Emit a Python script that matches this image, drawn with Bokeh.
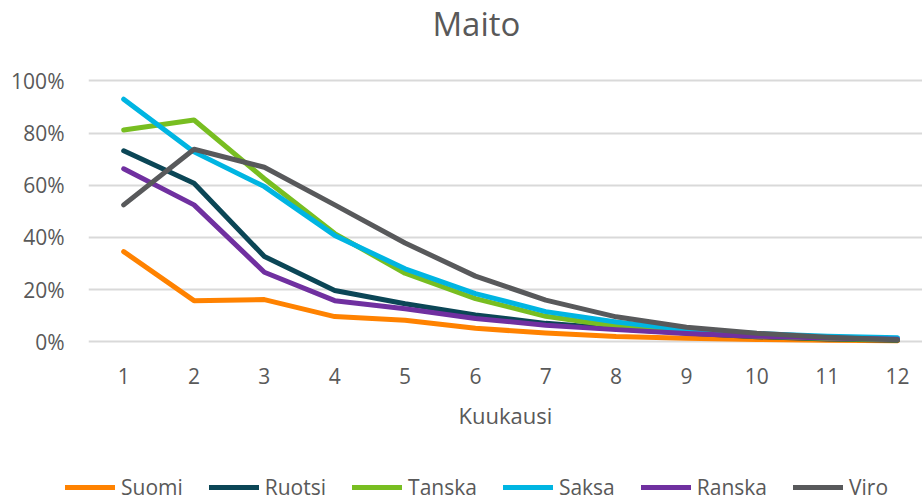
from bokeh.plotting import figure
from bokeh.layouts import column, row
from bokeh.models import Range1d, FixedTicker, PrintfTickFormatter, Legend, LegendItem, Label
from bokeh.embed import file_html
from bokeh.resources import INLINE

months = [1, 2, 3, 4, 5, 6, 7, 8, 9, 10, 11, 12]
suomi = [34.6, 15.8, 16.2, 9.7, 8.3, 5.2, 3.4, 2.1, 1.4, 0.9, 0.6, 0.4]
ruotsi = [73.2, 60.8, 32.7, 19.7, 14.6, 10.3, 7.1, 5.0, 3.4, 2.0, 1.1, 0.6]
tanska = [81.2, 85.0, 62.5, 41.5, 26.3, 16.6, 9.8, 6.0, 3.6, 2.2, 1.3, 0.8]
saksa = [93.0, 72.8, 59.5, 40.8, 28.0, 18.5, 11.6, 7.6, 4.6, 3.2, 2.2, 1.6]
ranska = [66.3, 52.5, 26.7, 15.8, 12.7, 9.0, 6.4, 4.7, 3.2, 2.2, 1.5, 1.0]
viro = [52.5, 73.8, 66.9, 52.5, 37.9, 25.2, 16.0, 9.6, 5.6, 3.3, 1.8, 0.8]

names = ["Suomi", "Ruotsi", "Tanska", "Saksa", "Ranska", "Viro"]
series = [suomi, ruotsi, tanska, saksa, ranska, viro]
colors = ["#FF8200", "#0B4656", "#78BE21", "#00B5E2", "#7030A0", "#58595B"]
y_ticks = [0, 20, 40, 60, 80, 100]
title_text = "Maito"
x_label = "Kuukausi"

FONT = "Open Sans"
TXT = "#595959"

p = figure(width=922, height=456, output_backend="svg", toolbar_location=None,
           x_range=Range1d(0.5, 12.355), y_range=Range1d(-1, 130.8),
           min_border_left=88, min_border_right=0, min_border_top=0, min_border_bottom=112)
p.outline_line_color = None
p.background_fill_color = "white"
p.border_fill_color = "white"

p.xgrid.grid_line_color = None
p.ygrid.grid_line_color = "#D9D9D9"
p.ygrid.grid_line_width = 1.8

p.xaxis.ticker = FixedTicker(ticks=months)
p.yaxis.ticker = FixedTicker(ticks=y_ticks)
p.yaxis.formatter = PrintfTickFormatter(format="%d%%")
for ax in (p.xaxis, p.yaxis):
    ax.axis_line_color = None
    ax.major_tick_line_color = None
    ax.minor_tick_line_color = None
    ax.major_tick_out = 0
    ax.major_tick_in = 0
    ax.major_label_text_font = FONT
    ax.major_label_text_font_size = "21px"
    ax.major_label_text_color = TXT
p.yaxis.major_label_standoff = 24
p.xaxis.major_label_standoff = 23
p.xaxis.axis_label = x_label
p.xaxis.axis_label_text_font = FONT
p.xaxis.axis_label_text_font_size = "22px"
p.xaxis.axis_label_text_font_style = "normal"
p.xaxis.axis_label_text_color = TXT
p.xaxis.axis_label_standoff = 13

p.add_layout(Label(x=6.014, y=121.9, text=title_text, text_align="center",
                   text_baseline="alphabetic", text_font=FONT, text_font_size="33px",
                   text_color=TXT))

for name, vals, col in zip(names, series, colors):
    p.line(months, vals, line_color=col, line_width=5, line_join="round", line_cap="round")

# legend band (its swatch renderers sit outside this band's visible range)
q = figure(width=922, height=45, output_backend="svg", toolbar_location=None,
           x_range=Range1d(100, 101), y_range=Range1d(100, 101),
           x_axis_location=None, y_axis_location=None,
           min_border_left=0, min_border_right=0, min_border_top=0, min_border_bottom=0)
q.outline_line_color = None
q.grid.grid_line_color = None
q.background_fill_color = "white"
q.border_fill_color = "white"
items = []
for name, vals, col in zip(names, series, colors):
    r = q.line(months[:1], vals[:1], line_color=col, line_width=5, line_cap="round")
    items.append(LegendItem(label=name, renderers=[r]))
legend = Legend(items=items, orientation="horizontal", location=(65, 0),
                glyph_width=50, glyph_height=20, label_standoff=6, spacing=26,
                padding=0, margin=0, border_line_color=None, background_fill_alpha=0,
                label_text_font=FONT, label_text_font_size="21px", label_text_color=TXT)
q.add_layout(legend, "center")

open("out.html", "w").write(file_html(column(p, row(q), spacing=0), INLINE))
